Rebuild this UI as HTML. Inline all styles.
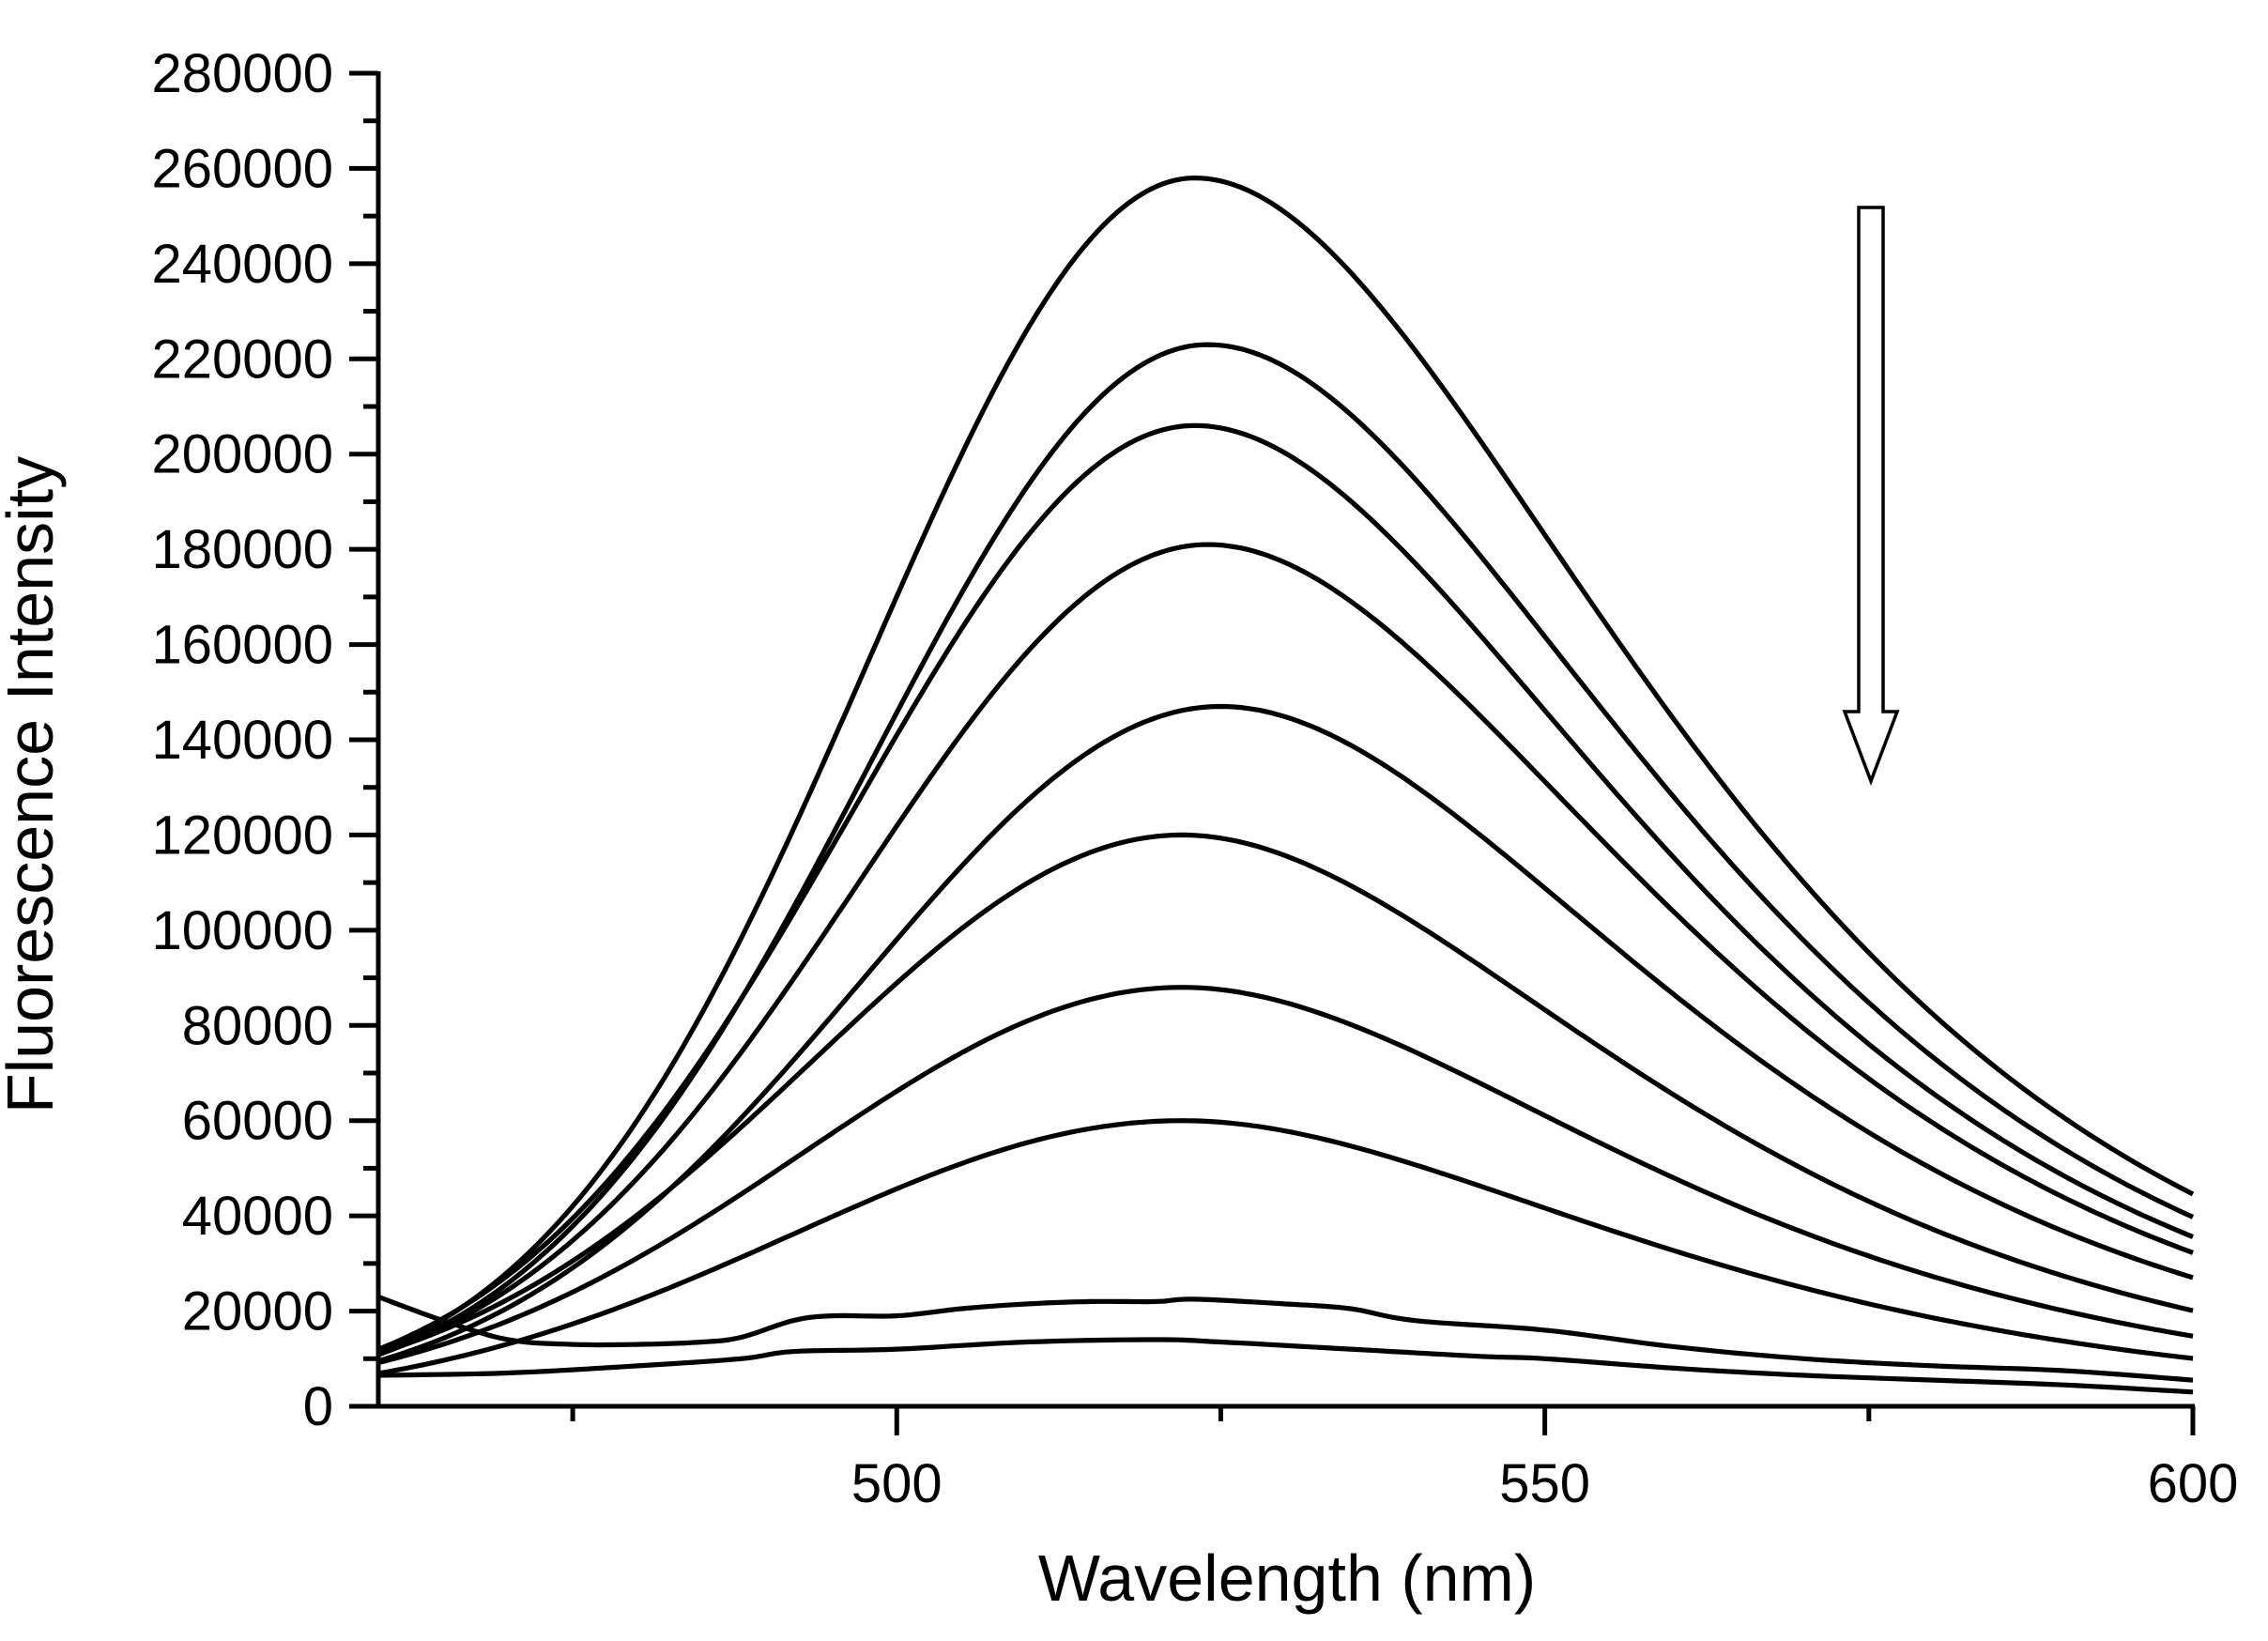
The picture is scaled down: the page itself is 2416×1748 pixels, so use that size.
<!DOCTYPE html>
<html><head><meta charset="utf-8">
<style>
html,body{margin:0;padding:0;background:#fff;}
svg{display:block;}
text{font-family:"Liberation Sans",Arial,sans-serif;fill:#000;}
</style></head>
<body>
<svg id="s" width="2416" height="1748" viewBox="0 0 2416 1748" xmlns="http://www.w3.org/2000/svg">
<g id="ticks" stroke="#000" stroke-width="5" fill="none"></g>
<g id="curves" stroke="#000" stroke-width="5.2" fill="none" stroke-linejoin="round"></g>
<g id="labels" font-size="58"></g>
<line x1="372" y1="1498" x2="2338" y2="1498" stroke="#000" stroke-width="5"/>
<line x1="403" y1="76" x2="403" y2="1500" stroke="#000" stroke-width="5"/>
<text x="1371" y="1705" font-size="70" text-anchor="middle">Wavelength (nm)</text>
<text transform="translate(56,836) rotate(-90)" font-size="70" text-anchor="middle">Fluorescence Intensity</text>
<path d="M1980,221 L2006,221 L2006,758 L2021,758 L1993,832 L1965,758 L1980,758 Z" fill="#fff" stroke="#000" stroke-width="3.5"/>
</svg>
<script>
var NS="http://www.w3.org/2000/svg";
function X(l){return 403+(l-460)*13.807;}
function Y(v){return 1498-v*(1420/280000);}
var tk=document.getElementById('ticks'),lb=document.getElementById('labels'),cv=document.getElementById('curves');
function line(x1,y1,x2,y2,p){var e=document.createElementNS(NS,'line');e.setAttribute('x1',x1);e.setAttribute('y1',y1);e.setAttribute('x2',x2);e.setAttribute('y2',y2);p.appendChild(e);}
function txt(x,y,s,a){var e=document.createElementNS(NS,'text');e.setAttribute('x',x);e.setAttribute('y',y);e.setAttribute('text-anchor',a);e.textContent=s;lb.appendChild(e);}
for(var v=0;v<=280000;v+=10000){var y=Y(v);if(v%20000==0){line(372,y,403,y,tk);txt(355,y+20,String(v),'end');}else line(387,y,403,y,tk);}
[475,525,575].forEach(function(l){line(X(l),1498,X(l),1514,tk);});
[500,550,600].forEach(function(l){line(X(l),1498,X(l),1529,tk);txt(X(l),1600,String(l),'middle');});
function path(pts){var d='';pts.forEach(function(p,i){d+=(i?'L':'M')+X(p[0]).toFixed(1)+','+Y(p[1]).toFixed(1);});var e=document.createElementNS(NS,'path');e.setAttribute('d',d);cv.appendChild(e);}
var peaks=[[258000,523],[223000,524],[206000,523],[181000,524],[147000,525],[120000,522],[88000,522],[60000,522]];
peaks.forEach(function(pk){var P=pk[0],c=pk[1],pts=[];
 var wl=25.2+(1-P/258000)*6;
 for(var l=460;l<=600;l+=0.5){var w,d=l-c;
  if(d<0)w=wl;else w=28+0.17*d;
  var g=Math.exp(-d*d/(2*w*w));
  pts.push([l,P*g]);}
 path(pts);});
function interp(a){var pts=[];for(var i=0;i<a.length-1;i++){var p0=a[Math.max(0,i-1)],p1=a[i],p2=a[i+1],p3=a[Math.min(a.length-1,i+2)];
 for(var t=0;t<1;t+=0.1){var t2=t*t,t3=t2*t;
  var f=function(k){return 0.5*((2*p1[k])+(-p0[k]+p2[k])*t+(2*p0[k]-5*p1[k]+4*p2[k]-p3[k])*t2+(-p0[k]+3*p1[k]-3*p2[k]+p3[k])*t3);};
  pts.push([f(0),f(1)*1000]);}}
 var L=a[a.length-1];pts.push([L[0],L[1]*1000]);return pts;}
path(interp([[460,23],[465,18],[470,14],[475,13],[480,13],[485,13.5],[488,14.5],[492,18],[495,19],[500,19],[505,20.5],[510,21.5],[515,22],[520,22],[523,22.5],[530,21.5],[535,20.5],[540,18],[550,16],[560,12.5],[570,10],[580,8.5],[590,7.5],[600,5.5]]));
path(interp([[460,6.5],[470,7],[480,8.5],[488,10],[492,11.5],[500,12],[510,13.5],[520,14],[525,13.5],[535,12],[545,10.5],[550,10],[560,8],[570,6.5],[580,5.5],[590,4.5],[600,3]]));
</script>
</body></html>
